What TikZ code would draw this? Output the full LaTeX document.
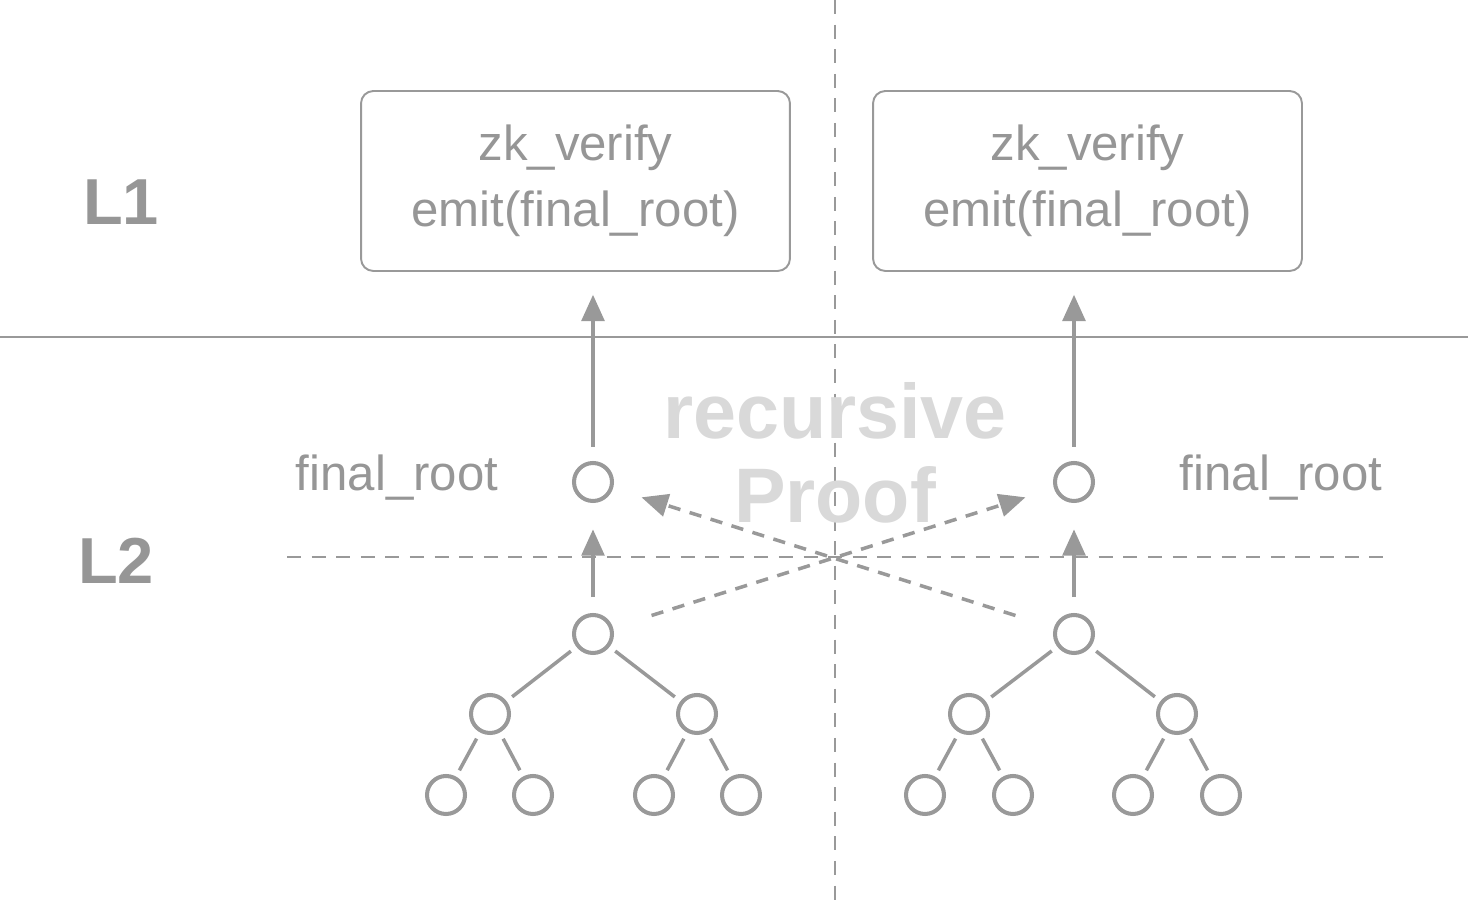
\documentclass[tikz,border=0pt]{standalone}
\usepackage{fontspec}
\setmainfont{Liberation Sans}
\usetikzlibrary{arrows.meta}
\definecolor{linegray}{RGB}{153,153,153}
\definecolor{textgray}{RGB}{150,150,150}
\definecolor{lightgray}{RGB}{217,217,217}

\begin{document}
\begin{tikzpicture}[x=0.02cm, y=-0.02cm,
    vert/.style={circle, draw=linegray, line width=2.3pt, minimum size=0.76cm, inner sep=0pt},
    box/.style={draw=linegray, line width=1.1pt, rounded corners=7pt, minimum width=8.58cm, minimum height=3.6cm, align=center, text=textgray, font=\fontsize{28}{37.5}\selectfont},
    branch/.style={linegray, line width=2pt, shorten <=4pt, shorten >=4pt},
    upward/.style={-{Triangle[length=15pt,width=13pt]}, linegray, line width=2pt},
    cross/.style={-{Triangle[length=15pt,width=13pt]}, linegray, line width=2pt, dash pattern=on 7pt off 5.5pt},
    layer/.style={text=textgray, font=\fontsize{37}{44}\bfseries\selectfont},
    lbl/.style={text=textgray, font=\fontsize{28}{34}\selectfont}]
    \useasboundingbox (0,0) rectangle (1472,908);

    % layer separators
    \draw[linegray, line width=1.1pt] (0,337) -- (1468,337);
    \draw[linegray, line width=1.1pt, dash pattern=on 8pt off 6pt] (835,0) -- (835,908);
    \draw[linegray, line width=1.1pt, dash pattern=on 8pt off 6pt] (287,557) -- (1385,557);

    \node[layer] at (121,202) {L1};
    \node[layer] at (116,561) {L2};

    \node[text=lightgray, align=center, font=\fontsize{44}{48}\bfseries\selectfont] (rec) at (835,453) {recursive\\Proof};

    % contracts on L1
    \node[box] (boxL) at (575.5,181) {zk\_verify\\emit(final\_root)};
    \node[box] (boxR) at (1087.5,181) {zk\_verify\\emit(final\_root)};

    % left tree
    \node[vert] (finL) at (593,482) {};
    \node[vert] (rootL) at (593,634) {};
    \node[vert] (aL) at (490,714) {};
    \node[vert] (bL) at (697,714) {};
    \node[vert] (a1L) at (446,795) {};
    \node[vert] (a2L) at (533,795) {};
    \node[vert] (b1L) at (654,795) {};
    \node[vert] (b2L) at (741,795) {};

    % right tree
    \node[vert] (finR) at (1074,482) {};
    \node[vert] (rootR) at (1074,634) {};
    \node[vert] (aR) at (969,714) {};
    \node[vert] (bR) at (1177,714) {};
    \node[vert] (a1R) at (925,795) {};
    \node[vert] (a2R) at (1013,795) {};
    \node[vert] (b1R) at (1133,795) {};
    \node[vert] (b2R) at (1221,795) {};

    \foreach \s in {L,R} {
        \draw[branch] (root\s) -- (a\s);
        \draw[branch] (root\s) -- (b\s);
        \draw[branch] (a\s) -- (a1\s);
        \draw[branch] (a\s) -- (a2\s);
        \draw[branch] (b\s) -- (b1\s);
        \draw[branch] (b\s) -- (b2\s);
        \draw[upward, shorten <=9pt, shorten >=15pt] (root\s) -- (fin\s);
        \draw[upward, shorten <=8pt, shorten >=13pt] (fin\s) -- (fin\s |- box\s.south);
    }

    \draw[cross, shorten <=23pt, shorten >=17pt] (rootL) -- (finR);
    \draw[cross, shorten <=23pt, shorten >=17pt] (rootR) -- (finL);

    \node[lbl] at (397,478) {final\_root};
    \node[lbl] at (1281,478) {final\_root};
\end{tikzpicture}
\end{document}
